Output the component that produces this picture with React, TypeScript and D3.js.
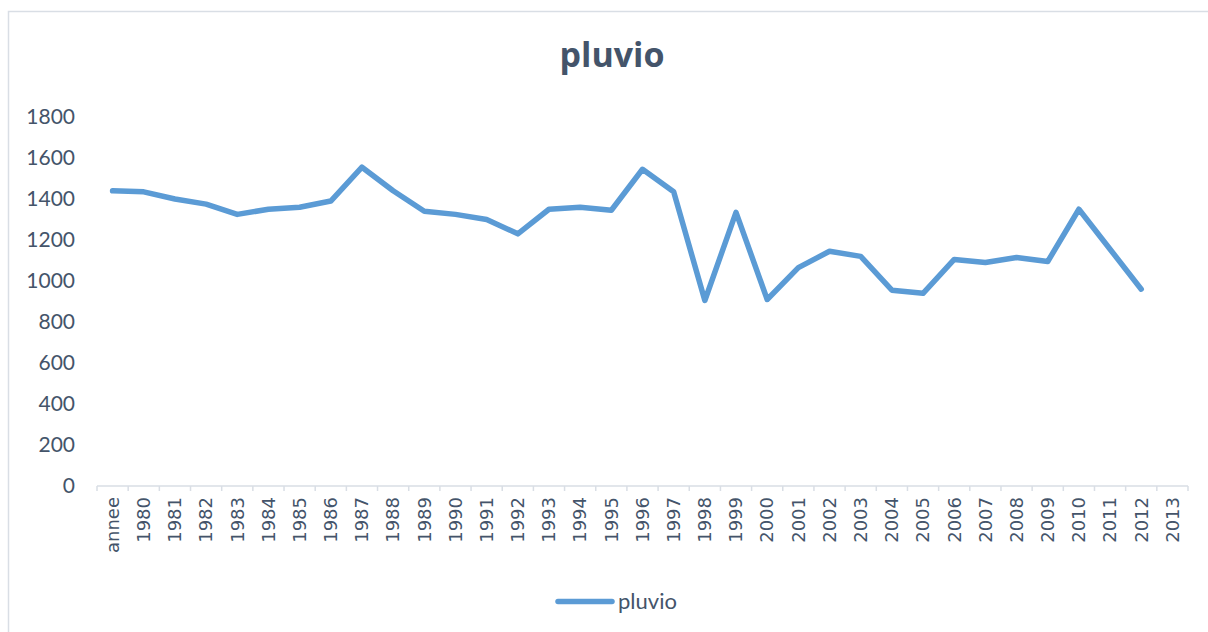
import React from "react";
import * as d3 from "d3";

// Categories along the x axis (first one is the header label of the source column)
const categories: string[] = [
  "annee", "1980", "1981", "1982", "1983", "1984", "1985", "1986", "1987", "1988",
  "1989", "1990", "1991", "1992", "1993", "1994", "1995", "1996", "1997", "1998",
  "1999", "2000", "2001", "2002", "2003", "2004", "2005", "2006", "2007", "2008",
  "2009", "2010", "2011", "2012", "2013",
];

// Yearly rainfall (mm); 2013 has no value
const pluvio: (number | null)[] = [
  1440, 1435, 1400, 1375, 1325, 1350, 1360, 1390, 1555, 1440,
  1340, 1325, 1300, 1230, 1350, 1360, 1345, 1545, 1435, 905,
  1335, 910, 1065, 1145, 1120, 955, 940, 1105, 1090, 1115,
  1095, 1350, 1155, 960, null,
];

const yTicks: number[] = [0, 200, 400, 600, 800, 1000, 1200, 1400, 1600, 1800];

const seriesName = "pluvio";
const title = "pluvio";

const W = 1208;
const H = 632;
const TEXT = "#44546A";
const LINE = "#5B9BD5";
const AXIS = "#D9DEE5";

export default function App() {
  const left = 97;
  const right = 1188;
  const top = 117;
  const bottom = 486;

  const x = d3.scaleBand<string>().domain(categories).range([left, right]).padding(0);
  const y = d3.scaleLinear().domain([0, 1800]).range([bottom, top]);

  const points = categories.map((c, i) => ({ c, v: pluvio[i] }));
  const line = d3
    .line<{ c: string; v: number | null }>()
    .defined((d) => d.v !== null)
    .x((d) => (x(d.c) as number) + x.bandwidth() / 2)
    .y((d) => y(d.v as number));

  const tickXs = categories.map((c) => x(c) as number).concat([right]);

  return (
    <svg
      width={W}
      height={H}
      style={{ position: "absolute", left: 0, top: 0, display: "block" }}
    >
      <rect x={0} y={0} width={W} height={H} fill="#fff" />
      {/* chart frame */}
      <path d={`M8.5,${H} V11.5 H${W}`} fill="none" stroke={AXIS} strokeWidth={1.5} />

      <text
        x={612}
        y={67}
        textAnchor="middle"
        fontFamily="'Open Sans', Lato, sans-serif"
        fontWeight={700}
        fontSize={34}
        fill={TEXT}
      >
        {title}
      </text>

      {/* y axis labels */}
      {yTicks.map((t) => (
        <text
          key={t}
          x={75}
          y={y(t)}
          dy="0.35em"
          textAnchor="end"
          fontFamily="Lato, 'Open Sans', sans-serif"
          fontSize={21}
          fill={TEXT}
        >
          {t}
        </text>
      ))}

      {/* x axis */}
      <line x1={left} x2={right} y1={bottom} y2={bottom} stroke={AXIS} strokeWidth={1.5} />
      {tickXs.map((tx, i) => (
        <line key={i} x1={tx} x2={tx} y1={bottom} y2={bottom + 5} stroke={AXIS} strokeWidth={1.5} />
      ))}
      {categories.map((c) => {
        const cx = (x(c) as number) + x.bandwidth() / 2;
        return (
          <text
            key={c}
            transform={`translate(${cx},${497}) rotate(-90)`}
            dy="0.35em"
            textAnchor="end"
            fontFamily="'DejaVu Sans', sans-serif"
            fontSize={18}
            fill={TEXT}
          >
            {c}
          </text>
        );
      })}

      <path
        d={line(points) || ""}
        fill="none"
        stroke={LINE}
        strokeWidth={5.5}
        strokeLinejoin="round"
        strokeLinecap="round"
      />

      {/* legend */}
      <line x1={558} x2={612} y1={601.5} y2={601.5} stroke={LINE} strokeWidth={5.5} strokeLinecap="round" />
      <text
        x={618}
        y={601.5}
        dy="0.35em"
        fontFamily="Lato, 'Open Sans', sans-serif"
        fontSize={22}
        fill={TEXT}
      >
        {seriesName}
      </text>
    </svg>
  );
}
